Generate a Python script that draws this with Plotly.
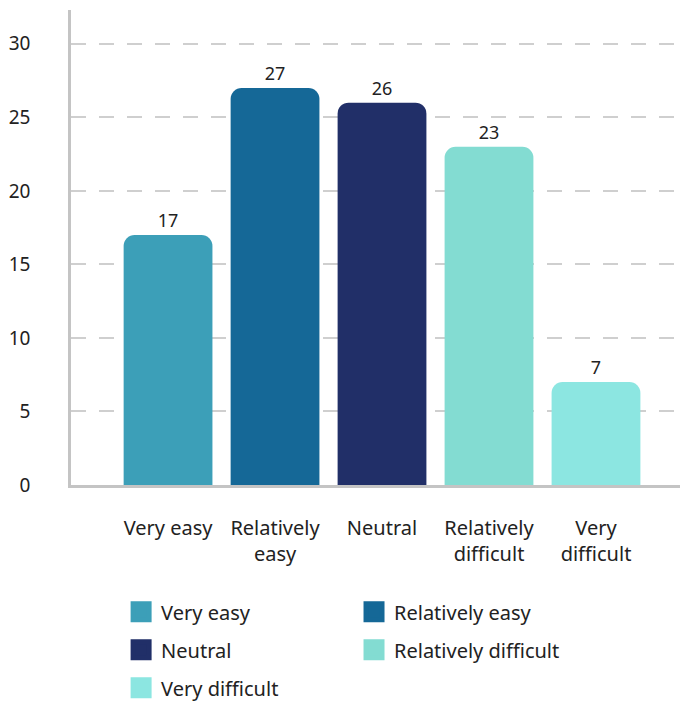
import plotly.graph_objects as go

categories = ["Very easy", "Relatively easy", "Neutral", "Relatively difficult", "Very difficult"]
tick_labels = ["Very easy", "Relatively<br>easy", "Neutral", "Relatively<br>difficult", "Very<br>difficult"]
values = [17, 27, 26, 23, 7]
colors = ["#3C9FB8", "#156897", "#212F68", "#83DCD2", "#8CE6E1"]
legend_assign = ["legend", "legend2", "legend", "legend2", "legend"]

FONT = "Noto Sans"
TEXT_COLOR = "#222222"

fig = go.Figure()

for cat, val, col in zip(categories, values, colors):
    fig.add_trace(go.Bar(
        x=[cat], y=[val], name=cat, marker=dict(color=col, line=dict(width=0)),
        width=0.83, text=[str(val)], textposition="outside",
        textfont=dict(family=FONT, size=18, color=TEXT_COLOR),
        cliponaxis=False, showlegend=False,
    ))

# legend entries (larger square swatches)
for i, (cat, col, lg) in enumerate(zip(categories, colors, legend_assign)):
    fig.add_trace(go.Scatter(
        x=[None], y=[None], mode="markers", name=cat,
        marker=dict(symbol="square", size=16, color=col, line=dict(color=col, width=5)),
        legend=lg, legendgroup=cat, showlegend=True, hoverinfo="skip",
    ))

fig.update_layout(
    width=680, height=694,
    margin=dict(l=63, r=0, t=2, b=217, autoexpand=False),
    plot_bgcolor="white", paper_bgcolor="white",
    barmode="overlay", barcornerradius=11,
    font=dict(family=FONT, size=18, color=TEXT_COLOR),
    xaxis=dict(
        type="category", categoryorder="array", categoryarray=categories,
        tickvals=categories, ticktext=tick_labels,
        range=[-0.907, 4.86], showgrid=False, zeroline=False,
        showline=True, linecolor="#c4c4c4", linewidth=2.5,
        ticks="", ticklabelstandoff=23, automargin=False,
        tickfont=dict(family=FONT, size=20, color=TEXT_COLOR),
    ),
    yaxis=dict(
        range=[0, 32.3], tickvals=[0, 5, 10, 15, 20, 25, 30],
        showgrid=True, gridcolor="#cfcfcf", gridwidth=2, griddash="15px,13px",
        zeroline=False, showline=True, linecolor="#c4c4c4", linewidth=2.5,
        ticks="", ticklabelstandoff=34, automargin=False,
        tickfont=dict(family=FONT, size=19, color=TEXT_COLOR),
    ),
    legend=dict(
        orientation="v", x=0.0812, xanchor="left", y=-0.226, yanchor="top",
        font=dict(family=FONT, size=20, color=TEXT_COLOR),
        itemsizing="trace", tracegroupgap=9, bgcolor="rgba(0,0,0,0)",
    ),
    legend2=dict(
        orientation="v", x=0.4587, xanchor="left", y=-0.226, yanchor="top",
        font=dict(family=FONT, size=20, color=TEXT_COLOR),
        itemsizing="trace", tracegroupgap=9, bgcolor="rgba(0,0,0,0)",
    ),
)

fig.write_html("out.html")
